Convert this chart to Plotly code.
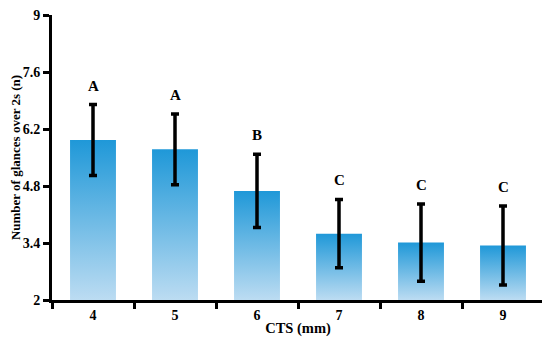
import plotly.graph_objects as go

categories = ["4", "5", "6", "7", "8", "9"]
means = [5.93, 5.70, 4.68, 3.63, 3.41, 3.34]
errors = [0.87, 0.87, 0.90, 0.84, 0.95, 0.97]
letters = ["A", "A", "B", "C", "C", "C"]
y_ticks = [2, 3.4, 4.8, 6.2, 7.6, 9]

FONT = "Liberation Serif"
BASE = 2
HALF = 0.28

fig = go.Figure()
xs = list(range(len(categories)))
for i, m in zip(xs, means):
    fig.add_trace(go.Scatter(
        x=[i - HALF, i + HALF, i + HALF, i - HALF, i - HALF],
        y=[BASE, BASE, m, m, BASE],
        mode="lines", line=dict(width=0),
        fill="toself",
        fillgradient=dict(type="vertical",
                          colorscale=[[0, "#bcdcf2"], [1, "#1f98d8"]]),
        hoverinfo="skip", showlegend=False))

fig.add_trace(go.Scatter(
    x=xs, y=means, mode="markers", marker=dict(size=0.1, color="black"),
    error_y=dict(type="data", array=errors, color="black", thickness=3.5, width=4),
    showlegend=False))

for i, m, e, t in zip(xs, means, errors, letters):
    fig.add_annotation(x=i, y=m + e, text=f"<b>{t}</b>", showarrow=False,
                       yanchor="middle", yshift=19,
                       font=dict(family=FONT, size=15, color="black"))

fig.update_layout(
    width=542, height=340,
    margin=dict(l=44, r=6, t=7, b=48),
    paper_bgcolor="white", plot_bgcolor="white",
    font=dict(family=FONT, size=14, color="black"),
    xaxis=dict(range=[-0.5, len(categories) - 0.5], tickmode="array",
               tickvals=xs, ticktext=[f"<b>{c}</b>" for c in categories],
               ticks="", showgrid=False, zeroline=False, automargin=False,
               showline=True, linecolor="black", linewidth=3,
               minor=dict(tickmode="array",
                          tickvals=[i - 0.5 for i in range(len(categories) + 1)],
                          ticks="outside", ticklen=6, tickwidth=2.5, tickcolor="black",
                          showgrid=False),
               title=dict(text="<b>CTS (mm)</b>", standoff=2,
                          font=dict(family=FONT, size=14.5))),
    yaxis=dict(range=[2, 9], tickmode="array", tickvals=y_ticks,
               ticktext=[f"<b>{v:g}</b>" for v in y_ticks],
               ticklabeloverflow="allow",
               ticks="outside", ticklen=6, tickwidth=2.5, tickcolor="black",
               showgrid=False, zeroline=False, automargin=False,
               showline=True, linecolor="black", linewidth=3,
               title=dict(text="<b>Number of glances over 2s (n)</b>", standoff=17,
                          font=dict(family=FONT, size=13))),
)

fig.write_html("out.html")
